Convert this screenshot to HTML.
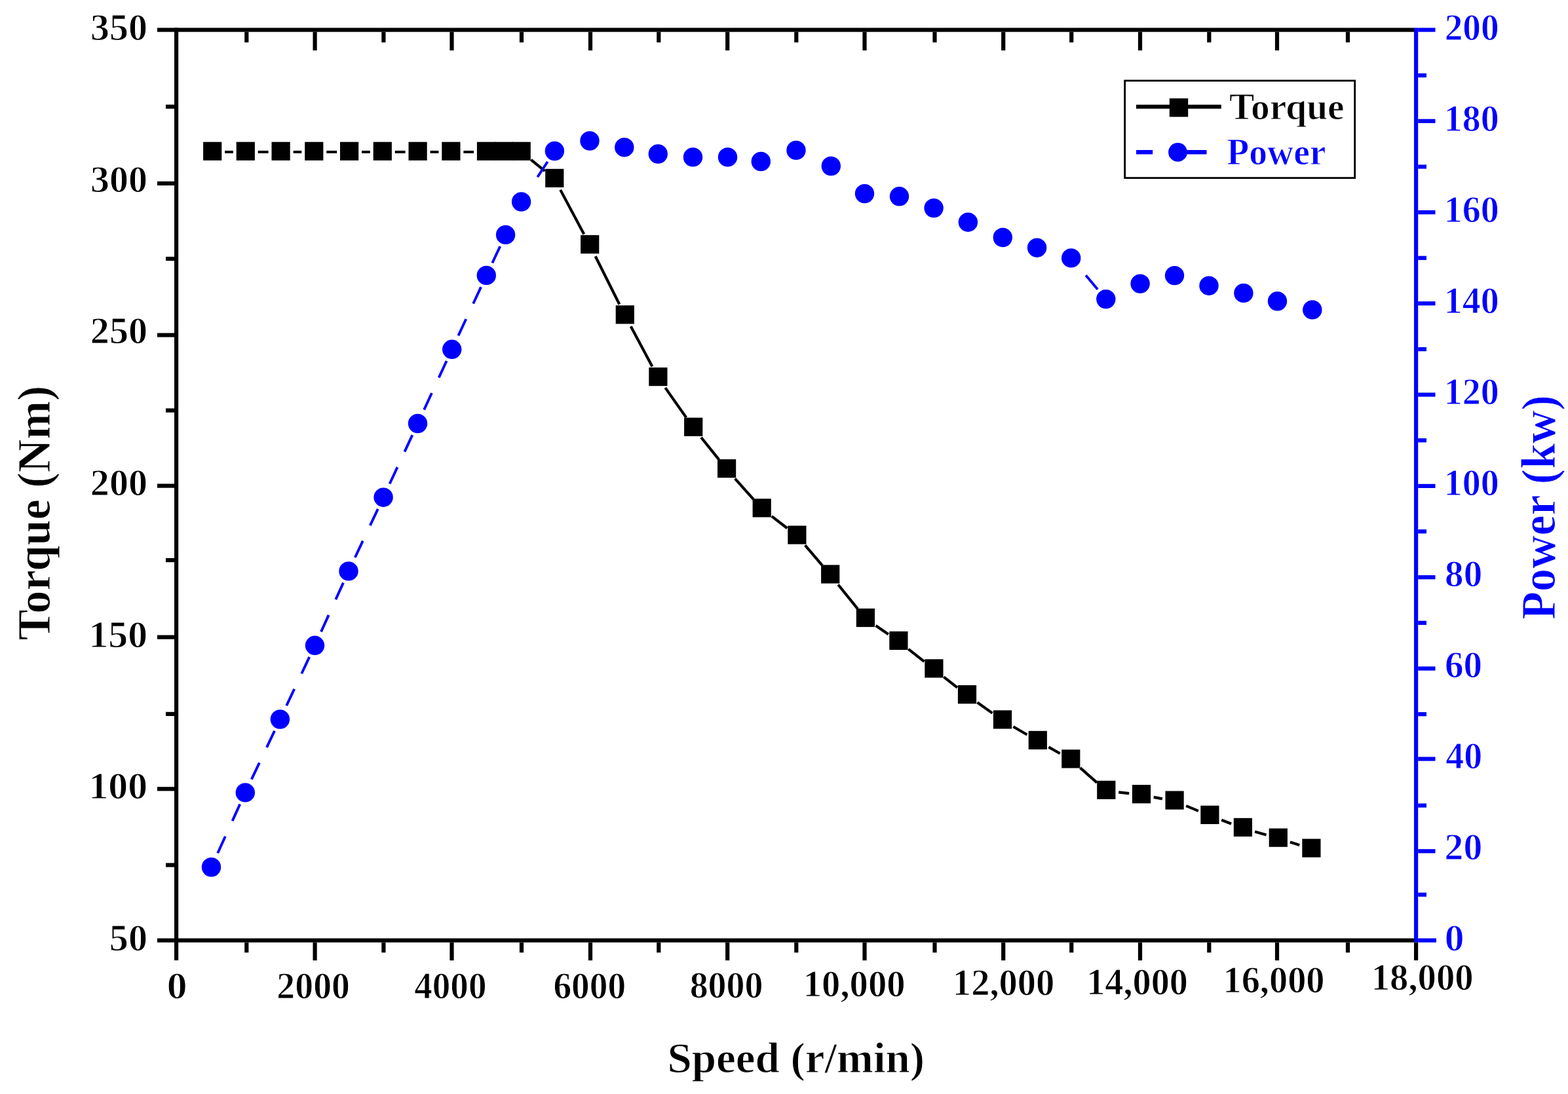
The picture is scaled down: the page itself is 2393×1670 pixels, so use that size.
<!DOCTYPE html>
<html><head><meta charset="utf-8"><title>Torque and Power vs Speed</title>
<style>html,body{margin:0;padding:0;background:#fff;}body{width:2393px;height:1670px;overflow:hidden;}svg{display:block;}</style>
</head><body>
<svg width="2393" height="1670" viewBox="0 0 2393 1670">
<rect width="2393" height="1670" fill="#fff"/>
<path d="M343.2 232L355.8 232M393.8 232L409.6 232M447.6 232L460.3 232M498.3 232L514.1 232M552.1 232L564.8 232M602.8 232L618.6 232M656.6 232L669.4 232M707.4 232L723 232M810.45 243.98L831.55 261.12M855.24 289.87L891.26 357.43M908.69 391.2L945.31 464.5M962.75 498.26L995.45 559.54M1015.32 591.85L1047.28 637.35M1070.08 667.73L1097.22 701.57M1121.73 730.59L1150.07 762.41M1177.77 788.17L1201.33 806.23M1228.69 832.29L1254.91 863.21M1279.14 892.48L1308.96 929.42M1336.53 955L1355.77 968.3M1386.33 990.85L1410.47 1009.85M1440.35 1033.33L1461.05 1049.57M1491.5 1072.29L1514.5 1088.61M1546.4 1109.2L1567.4 1121.5M1600.35 1140.44L1617.75 1150.26M1648.57 1172.15L1674.03 1194.55M1707.17 1209.31L1723.13 1211.19M1760.68 1216.87L1773.92 1219.33M1810.15 1230.08L1828.85 1237.82M1864.18 1251.79L1879.12 1257.41M1915.13 1269.44L1932.57 1274.56M1968.93 1285.6L1983.27 1290.1" stroke="#000" stroke-width="4.2" fill="none"/>
<path d="M366.22 1227.65L354.63 1253.14M343.86 1276.8L332.27 1302.29M419.04 1115.62L407.04 1140.91M395.89 1164.4L383.89 1189.7M472.19 1002.94L460.25 1028.27M449.17 1051.79L437.24 1077.12M523.94 889.65L512.36 915.15M501.61 938.82L490.03 964.32M576.79 776.84L564.85 802.17M553.77 825.69L541.84 851.02M629.28 664.18L617.47 689.57M606.51 713.15L594.71 738.54M681.53 551.01L669.81 576.43M658.92 600.05L647.2 625.47M734.06 438.08L722.24 463.46M711.26 487.02L699.44 512.4M763.27 376.03L751.3 401.35M835.71 246.81L820.36 270.23M1675.2 441.72L1657.1 420.35" stroke="#0000ff" stroke-width="3.9" fill="none"/>
<g fill="#000"><rect x="310.1" y="216.7" width="28.2" height="28.2"/><rect x="360.7" y="216.7" width="28.2" height="28.2"/><rect x="414.5" y="216.7" width="28.2" height="28.2"/><rect x="465.2" y="216.7" width="28.2" height="28.2"/><rect x="519" y="216.7" width="28.2" height="28.2"/><rect x="569.7" y="216.7" width="28.2" height="28.2"/><rect x="623.5" y="216.7" width="28.2" height="28.2"/><rect x="674.3" y="216.7" width="28.2" height="28.2"/><rect x="727.9" y="216.7" width="28.2" height="28.2"/><rect x="754.9" y="216.7" width="28.2" height="28.2"/><rect x="781.6" y="216.7" width="28.2" height="28.2"/><rect x="832.2" y="257.8" width="28.2" height="28.2"/><rect x="886.1" y="358.9" width="28.2" height="28.2"/><rect x="939.7" y="466.2" width="28.2" height="28.2"/><rect x="990.3" y="561" width="28.2" height="28.2"/><rect x="1044.1" y="637.6" width="28.2" height="28.2"/><rect x="1095" y="701.1" width="28.2" height="28.2"/><rect x="1148.6" y="761.3" width="28.2" height="28.2"/><rect x="1202.3" y="802.5" width="28.2" height="28.2"/><rect x="1253.1" y="862.4" width="28.2" height="28.2"/><rect x="1306.8" y="928.9" width="28.2" height="28.2"/><rect x="1357.3" y="963.8" width="28.2" height="28.2"/><rect x="1411.3" y="1006.3" width="28.2" height="28.2"/><rect x="1461.9" y="1046" width="28.2" height="28.2"/><rect x="1515.9" y="1084.3" width="28.2" height="28.2"/><rect x="1569.7" y="1115.8" width="28.2" height="28.2"/><rect x="1620.2" y="1144.3" width="28.2" height="28.2"/><rect x="1674.2" y="1191.8" width="28.2" height="28.2"/><rect x="1727.9" y="1198.1" width="28.2" height="28.2"/><rect x="1778.5" y="1207.5" width="28.2" height="28.2"/><rect x="1832.3" y="1229.8" width="28.2" height="28.2"/><rect x="1882.8" y="1248.8" width="28.2" height="28.2"/><rect x="1936.7" y="1264.6" width="28.2" height="28.2"/><rect x="1987.3" y="1280.5" width="28.2" height="28.2"/></g>
<g fill="#0000ff"><circle cx="322.5" cy="1323.75" r="14.7"/><circle cx="374.3" cy="1209.9" r="14.7"/><circle cx="427.4" cy="1098" r="14.7"/><circle cx="480.5" cy="985.3" r="14.7"/><circle cx="532" cy="871.9" r="14.7"/><circle cx="585.1" cy="759.2" r="14.7"/><circle cx="637.5" cy="646.5" r="14.7"/><circle cx="689.7" cy="533.3" r="14.7"/><circle cx="742.3" cy="420.4" r="14.7"/><circle cx="771.6" cy="358.4" r="14.7"/><circle cx="795.6" cy="308" r="14.7"/><circle cx="846.4" cy="230.5" r="14.7"/><circle cx="900" cy="215" r="14.7"/><circle cx="952.8" cy="224.9" r="14.7"/><circle cx="1004.3" cy="235" r="14.7"/><circle cx="1057.5" cy="239.9" r="14.7"/><circle cx="1110.5" cy="239.9" r="14.7"/><circle cx="1161.3" cy="246.5" r="14.7"/><circle cx="1215" cy="229.4" r="14.7"/><circle cx="1268.3" cy="253.5" r="14.7"/><circle cx="1319.5" cy="295.6" r="14.7"/><circle cx="1372.5" cy="299.8" r="14.7"/><circle cx="1425.1" cy="317.6" r="14.7"/><circle cx="1477.4" cy="339.2" r="14.7"/><circle cx="1530.3" cy="362.5" r="14.7"/><circle cx="1582.6" cy="378.2" r="14.7"/><circle cx="1634.7" cy="393.9" r="14.7"/><circle cx="1687.8" cy="456.6" r="14.7"/><circle cx="1740.1" cy="433.1" r="14.7"/><circle cx="1792.5" cy="420.6" r="14.7"/><circle cx="1845" cy="436.2" r="14.7"/><circle cx="1897.9" cy="447.4" r="14.7"/><circle cx="1949.5" cy="459.8" r="14.7"/><circle cx="2002.8" cy="472.9" r="14.7"/></g>
<rect x="266.0" y="42.5" width="6.2" height="1423.5" fill="#000"/>
<rect x="240" y="42.5" width="1918.0" height="6.2" fill="#000"/>
<rect x="240" y="1432.4" width="1918.0" height="6.2" fill="#000"/>
<rect x="2158.0" y="42.5" width="6.2" height="1396.1000000000001" fill="#0000ff"/>
<rect x="2158.0" y="1438.6000000000001" width="6.2" height="27.39999999999991" fill="#000"/>
<g fill="#000"><rect x="373.2" y="1438.6" width="6.2" height="15.5"/><rect x="373.2" y="48.7" width="6.2" height="16"/><rect x="477.5" y="1438.6" width="6.2" height="27.5"/><rect x="477.5" y="48.7" width="6.2" height="28.3"/><rect x="582.3" y="1438.6" width="6.2" height="15.5"/><rect x="582.3" y="48.7" width="6.2" height="16"/><rect x="686.4" y="1438.6" width="6.2" height="27.5"/><rect x="686.4" y="48.7" width="6.2" height="28.3"/><rect x="792.9" y="1438.6" width="6.2" height="15.5"/><rect x="792.9" y="48.7" width="6.2" height="16"/><rect x="897.9" y="1438.6" width="6.2" height="27.5"/><rect x="897.9" y="48.7" width="6.2" height="28.3"/><rect x="1002.2" y="1438.6" width="6.2" height="15.5"/><rect x="1002.2" y="48.7" width="6.2" height="16"/><rect x="1107.1" y="1438.6" width="6.2" height="27.5"/><rect x="1107.1" y="48.7" width="6.2" height="28.3"/><rect x="1212.2" y="1438.6" width="6.2" height="15.5"/><rect x="1212.2" y="48.7" width="6.2" height="16"/><rect x="1316.4" y="1438.6" width="6.2" height="27.5"/><rect x="1316.4" y="48.7" width="6.2" height="28.3"/><rect x="1423.4" y="1438.6" width="6.2" height="15.5"/><rect x="1423.4" y="48.7" width="6.2" height="16"/><rect x="1528.1" y="1438.6" width="6.2" height="27.5"/><rect x="1528.1" y="48.7" width="6.2" height="28.3"/><rect x="1632.1" y="1438.6" width="6.2" height="15.5"/><rect x="1632.1" y="48.7" width="6.2" height="16"/><rect x="1736.9" y="1438.6" width="6.2" height="27.5"/><rect x="1736.9" y="48.7" width="6.2" height="28.3"/><rect x="1842.2" y="1438.6" width="6.2" height="15.5"/><rect x="1842.2" y="48.7" width="6.2" height="16"/><rect x="1945.9" y="1438.6" width="6.2" height="27.5"/><rect x="1945.9" y="48.7" width="6.2" height="28.3"/><rect x="2053.9" y="1438.6" width="6.2" height="15.5"/><rect x="2053.9" y="48.7" width="6.2" height="16"/><rect x="253" y="159.7" width="13.0" height="6.2"/><rect x="240" y="276.9" width="26.0" height="6.2"/><rect x="253" y="391.9" width="13.0" height="6.2"/><rect x="240" y="508.4" width="26.0" height="6.2"/><rect x="253" y="623.4" width="13.0" height="6.2"/><rect x="240" y="738.5" width="26.0" height="6.2"/><rect x="253" y="852" width="13.0" height="6.2"/><rect x="240" y="969.5" width="26.0" height="6.2"/><rect x="253" y="1086.8" width="13.0" height="6.2"/><rect x="240" y="1201.2" width="26.0" height="6.2"/><rect x="253" y="1317.4" width="13.0" height="6.2"/></g>
<g fill="#0000ff"><rect x="2164.2" y="1432.4" width="27.8" height="6.2"/><rect x="2164.2" y="1362.6" width="12.8" height="6.2"/><rect x="2164.2" y="1296.2" width="26.3" height="6.2"/><rect x="2164.2" y="1226.5" width="12.8" height="6.2"/><rect x="2164.2" y="1155.4" width="26.3" height="6.2"/><rect x="2164.2" y="1087.1" width="12.8" height="6.2"/><rect x="2164.2" y="1017.4" width="26.3" height="6.2"/><rect x="2164.2" y="947.7" width="12.8" height="6.2"/><rect x="2164.2" y="878.1" width="26.3" height="6.2"/><rect x="2164.2" y="808.2" width="12.8" height="6.2"/><rect x="2164.2" y="738.8" width="26.3" height="6.2"/><rect x="2164.2" y="669.1" width="12.8" height="6.2"/><rect x="2164.2" y="599.4" width="26.3" height="6.2"/><rect x="2164.2" y="530" width="12.8" height="6.2"/><rect x="2164.2" y="460.1" width="26.3" height="6.2"/><rect x="2164.2" y="390.7" width="12.8" height="6.2"/><rect x="2164.2" y="321" width="26.3" height="6.2"/><rect x="2164.2" y="251.4" width="12.8" height="6.2"/><rect x="2164.2" y="181.7" width="26.3" height="6.2"/><rect x="2164.2" y="112" width="12.8" height="6.2"/><rect x="2164.2" y="42.5" width="26.3" height="6.2"/></g>
<g font-family="'Liberation Serif','Times New Roman',serif" font-weight="bold" stroke="#fff" stroke-width="1"><text x="138.12" y="60.98" font-size="57" fill="#000" textLength="86.88" lengthAdjust="spacingAndGlyphs">350</text><text x="138.12" y="292.68" font-size="57" fill="#000" textLength="86.88" lengthAdjust="spacingAndGlyphs">300</text><text x="137.86" y="524.38" font-size="57" fill="#000" textLength="87.15" lengthAdjust="spacingAndGlyphs">250</text><text x="137.86" y="756.08" font-size="57" fill="#000" textLength="87.15" lengthAdjust="spacingAndGlyphs">200</text><text x="135.52" y="987.78" font-size="57" fill="#000" textLength="89.55" lengthAdjust="spacingAndGlyphs">150</text><text x="135.52" y="1219.48" font-size="57" fill="#000" textLength="89.55" lengthAdjust="spacingAndGlyphs">100</text><text x="166.87" y="1451.18" font-size="57" fill="#000" textLength="58.14" lengthAdjust="spacingAndGlyphs">50</text><text x="254.65" y="1523.91" font-size="57" fill="#000" textLength="30.79" lengthAdjust="spacingAndGlyphs">0</text><text x="422.36" y="1523.91" font-size="57" fill="#000" textLength="111.57" lengthAdjust="spacingAndGlyphs">2000</text><text x="632.15" y="1523.91" font-size="57" fill="#000" textLength="110.36" lengthAdjust="spacingAndGlyphs">4000</text><text x="844.41" y="1523.91" font-size="57" fill="#000" textLength="110.7" lengthAdjust="spacingAndGlyphs">6000</text><text x="1052.64" y="1523.41" font-size="57" fill="#000" textLength="111.99" lengthAdjust="spacingAndGlyphs">8000</text><text x="1225.76" y="1521.21" font-size="57" fill="#000" textLength="155.9" lengthAdjust="spacingAndGlyphs">10,000</text><text x="1453.87" y="1519.41" font-size="57" fill="#000" textLength="155.48" lengthAdjust="spacingAndGlyphs">12,000</text><text x="1658.19" y="1518.11" font-size="57" fill="#000" textLength="154.75" lengthAdjust="spacingAndGlyphs">14,000</text><text x="1866.48" y="1514.91" font-size="57" fill="#000" textLength="155.06" lengthAdjust="spacingAndGlyphs">16,000</text><text x="2092.66" y="1510.71" font-size="57" fill="#000" textLength="156" lengthAdjust="spacingAndGlyphs">18,000</text></g>
<g font-family="'Liberation Serif','Times New Roman',serif" font-weight="bold" stroke="#fff" stroke-width="1"><text x="2204.74" y="1450.68" font-size="57" fill="#0000ff" textLength="29.73" lengthAdjust="spacingAndGlyphs">0</text><text x="2204.58" y="1311.72" font-size="57" fill="#0000ff" textLength="57.61" lengthAdjust="spacingAndGlyphs">20</text><text x="2206.24" y="1172.76" font-size="57" fill="#0000ff" textLength="55.89" lengthAdjust="spacingAndGlyphs">40</text><text x="2205.05" y="1033.8" font-size="57" fill="#0000ff" textLength="57.13" lengthAdjust="spacingAndGlyphs">60</text><text x="2205.11" y="894.84" font-size="57" fill="#0000ff" textLength="57.07" lengthAdjust="spacingAndGlyphs">80</text><text x="2203.82" y="755.88" font-size="57" fill="#0000ff" textLength="83.91" lengthAdjust="spacingAndGlyphs">100</text><text x="2203.82" y="616.92" font-size="57" fill="#0000ff" textLength="83.91" lengthAdjust="spacingAndGlyphs">120</text><text x="2203.82" y="477.96" font-size="57" fill="#0000ff" textLength="83.91" lengthAdjust="spacingAndGlyphs">140</text><text x="2203.82" y="339" font-size="57" fill="#0000ff" textLength="83.91" lengthAdjust="spacingAndGlyphs">160</text><text x="2203.82" y="200.04" font-size="57" fill="#0000ff" textLength="83.91" lengthAdjust="spacingAndGlyphs">180</text><text x="2204.68" y="61.08" font-size="57" fill="#0000ff" textLength="83.03" lengthAdjust="spacingAndGlyphs">200</text></g>
<g font-family="'Liberation Serif','Times New Roman',serif" font-weight="bold" stroke="#fff" stroke-width="1">
<text transform="translate(75.84,977.18) rotate(-90)" x="0" y="0" font-size="72" fill="#000" textLength="388.61" lengthAdjust="spacingAndGlyphs">Torque (Nm)</text>
<text transform="translate(2373.35,945.69) rotate(-90)" x="0" y="0" font-size="74" fill="#0000ff" textLength="342.55" lengthAdjust="spacingAndGlyphs">Power (kw)</text>
<text x="1018.43" y="1637.4" font-size="65" fill="#000" textLength="392.71" lengthAdjust="spacingAndGlyphs">Speed (r/min)</text>
</g>
<rect x="1716.65" y="123.15" width="351" height="148.5" fill="none" stroke="#000" stroke-width="2.8"/>
<rect x="1734" y="159.8" width="129.8" height="6.1" fill="#000"/>
<rect x="1784.8" y="150.2" width="28.4" height="28.2" fill="#000"/>
<rect x="1734" y="229" width="25.2" height="6.5" fill="#0000ff"/>
<rect x="1810" y="229" width="31.5" height="6.5" fill="#0000ff"/>
<circle cx="1797.5" cy="232.4" r="14.4" fill="#0000ff"/>
<g font-family="'Liberation Serif','Times New Roman',serif" font-weight="bold" stroke="#fff" stroke-width="1">
<text x="1875.93" y="182.22" font-size="57" fill="#000" textLength="175.7" lengthAdjust="spacingAndGlyphs">Torque</text>
<text x="1872.35" y="250.92" font-size="57" fill="#0000ff" textLength="151.14" lengthAdjust="spacingAndGlyphs">Power</text>
</g>
</svg>
</body></html>
